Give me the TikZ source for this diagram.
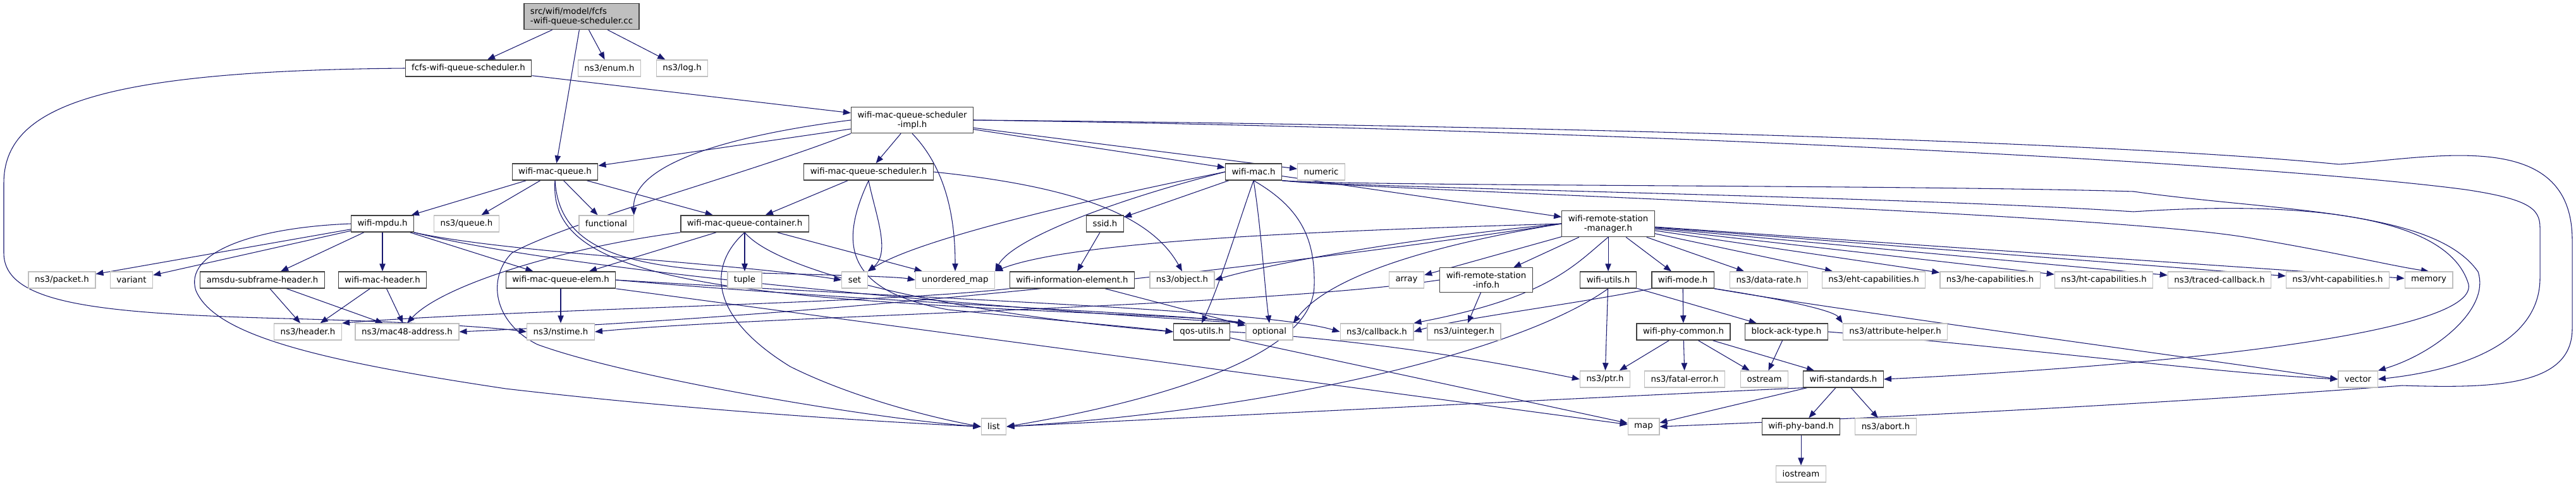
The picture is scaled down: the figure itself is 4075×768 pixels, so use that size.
\documentclass[tikz,border=0pt]{standalone}
\usepackage{fontspec}
\setmainfont{DejaVu Sans}
\usetikzlibrary{arrows.meta,backgrounds}
\definecolor{edgeblue}{HTML}{191970}
\definecolor{extgrey}{HTML}{BFBFBF}
\definecolor{boxline}{HTML}{404040}
\begin{document}
\begin{tikzpicture}[x=0.75pt,y=-0.75pt,
   box/.style={rectangle,fill=white,line width=1pt,inner xsep=7.5pt,inner ysep=5pt,
               minimum height=19.5pt,font=\fontsize{10}{11.25}\selectfont},
   incbox/.style={box,draw=boxline},
   extbox/.style={box,draw=extgrey},
   rootbox/.style={box,draw=boxline,fill=extgrey},
   dep/.style={draw=edgeblue,line width=0.8pt,-{Triangle[length=9pt,width=7pt]}}]
   \useasboundingbox (0,0) rectangle (4075,768);
   % files
   \node[rootbox,align=left] (root) at (920,26) {src/wifi/model/fcfs\\-wifi-queue-scheduler.cc};
   \node[incbox] (fcfs) at (741,108) {fcfs-wifi-queue-scheduler.h};
   \node[extbox] (enum) at (964,108) {ns3/enum.h};
   \node[extbox] (log)  at (1079,108) {ns3/log.h};
   \node[incbox,align=center] (impl) at (1443,190) {wifi-mac-queue-scheduler\\-impl.h};
   \node[incbox] (wmq)     at (878,272)  {wifi-mac-queue.h};
   \node[incbox] (wmqs)    at (1374,272) {wifi-mac-queue-scheduler.h};
   \node[incbox] (wmac)    at (1983,272) {wifi-mac.h};
   \node[extbox] (numeric) at (2090,272) {numeric};
   \node[incbox] (wmpdu)      at (605,354)  {wifi-mpdu.h};
   \node[extbox] (queue)      at (738,354)  {ns3/queue.h};
   \node[extbox] (functional) at (959,354)  {functional};
   \node[incbox] (container)  at (1178,354) {wifi-mac-queue-container.h};
   \node[incbox] (ssid)       at (1748,354) {ssid.h};
   \node[incbox,align=center] (wrsm) at (2544,354) {wifi-remote-station\\-manager.h};
   \node[extbox] (packet)   at (98,443)   {ns3/packet.h};
   \node[extbox] (variant)  at (208,443)  {variant};
   \node[incbox] (amsdu)    at (415,443)  {amsdu-subframe-header.h};
   \node[incbox] (wmh)      at (605,443)  {wifi-mac-header.h};
   \node[incbox] (elem)     at (887,443)  {wifi-mac-queue-elem.h};
   \node[extbox] (tuple)    at (1178,443) {tuple};
   \node[extbox] (set)      at (1352,443) {set};
   \node[extbox] (umap)     at (1511,443) {unordered\_map};
   \node[incbox] (wie)      at (1696,443) {wifi-information-element.h};
   \node[extbox] (object)   at (1870,443) {ns3/object.h};
   \node[extbox] (array)    at (2225,443) {array};
   \node[incbox,align=center] (wrsi) at (2351,443) {wifi-remote-station\\-info.h};
   \node[incbox] (wutils)   at (2544,443) {wifi-utils.h};
   \node[incbox] (wmode)    at (2662,443) {wifi-mode.h};
   \node[extbox] (datarate) at (2798,443) {ns3/data-rate.h};
   \node[extbox] (eht)      at (2964,443) {ns3/eht-capabilities.h};
   \node[extbox] (he)       at (3148,443) {ns3/he-capabilities.h};
   \node[extbox] (ht)       at (3328,443) {ns3/ht-capabilities.h};
   \node[extbox] (traced)   at (3511,443) {ns3/traced-callback.h};
   \node[extbox] (vht)      at (3698,443) {ns3/vht-capabilities.h};
   \node[extbox] (memory)   at (3842,443) {memory};
   \node[extbox] (header)   at (487,525)  {ns3/header.h};
   \node[extbox] (mac48)    at (644,525)  {ns3/mac48-address.h};
   \node[extbox] (nstime)   at (887,525)  {ns3/nstime.h};
   \node[incbox] (qos)      at (1901,525) {qos-utils.h};
   \node[extbox] (optional) at (2008,525) {optional};
   \node[extbox] (callback) at (2178,525) {ns3/callback.h};
   \node[extbox] (uinteger) at (2316,525) {ns3/uinteger.h};
   \node[incbox] (wpc)      at (2663,525) {wifi-phy-common.h};
   \node[incbox] (bat)      at (2826,525) {block-ack-type.h};
   \node[extbox] (attr)     at (2998,525) {ns3/attribute-helper.h};
   \node[extbox] (ptr)      at (2539,600) {ns3/ptr.h};
   \node[extbox] (fatal)    at (2665,600) {ns3/fatal-error.h};
   \node[extbox] (ostream)  at (2791,600) {ostream};
   \node[incbox] (wstd)     at (2916,600) {wifi-standards.h};
   \node[extbox] (vector)   at (3730,600) {vector};
   \node[extbox] (list)     at (1572,675) {list};
   \node[extbox] (map)      at (2600,675) {map};
   \node[incbox] (wpb)      at (2849,675) {wifi-phy-band.h};
   \node[extbox] (abort)    at (2983,675) {ns3/abort.h};
   \node[extbox] (iostream) at (2849,750) {iostream};
   \begin{pgfonlayer}{background}
   % includes of the .cc file
   \draw[dep] (root) -- (fcfs);
   \draw[dep] (root) -- (wmq);
   \draw[dep] (root) -- (enum);
   \draw[dep] (root) -- (log);
   % fcfs-wifi-queue-scheduler.h
   \draw[dep] (fcfs) -- (impl);
   \draw[dep] (fcfs.west) .. controls (150,112) and (6,170) .. (6,290) -- (6,400)
      .. controls (6,480) and (150,496) .. (450,504) .. controls (650,509) and (780,518) .. (nstime.west);
   % wifi-mac-queue-scheduler-impl.h
   \draw[dep] (impl) -- (wmq);
   \draw[dep] (impl) -- (wmqs);
   \draw[dep] (impl) -- (wmac);
   \draw[dep] (impl) -- (numeric);
   \draw[dep] (impl.west) .. controls (1150,215) and (1000,260) .. (functional.north east);
   \draw[dep] (impl.south) .. controls (1490,260) and (1511,330) .. (umap.north);
   \draw[dep] (impl.south west) .. controls (1200,270) and (900,350) .. (810,400)
      .. controls (770,440) and (780,510) .. (850,545) .. controls (1000,600) and (1400,665) .. (list.west);
   \draw[dep] (impl.east) .. controls (2600,205) and (3600,260) .. (3900,300)
      .. controls (4000,315) and (4018,330) .. (4018,360) -- (4018,440)
      .. controls (4018,540) and (3900,585) .. (vector.east);
   \draw[dep] (impl.east) .. controls (2600,200) and (3400,230) .. (3700,260)
      .. controls (3850,250) and (4069,200) .. (4069,380) -- (4069,520)
      .. controls (4069,610) and (3950,615) .. (3800,610) .. controls (3400,640) and (3000,660) .. (map.east);
   % wifi-mac-queue.h
   \draw[dep] (wmq) -- (wmpdu);
   \draw[dep] (wmq) -- (queue);
   \draw[dep] (wmq) -- (functional);
   \draw[dep] (wmq) -- (container);
   \draw[dep] (wmq.south) .. controls (870,390) and (980,440) .. (1300,470)
      .. controls (1600,495) and (1880,498) .. (optional.north west);
   \draw[dep] (wmq.south) .. controls (885,400) and (1000,425) .. (1200,432)
      .. controls (1350,436) and (1420,438) .. (umap.west);
   % wifi-mac-queue-scheduler.h
   \draw[dep] (wmqs) -- (container);
   \draw[dep] (wmqs.east) .. controls (1700,295) and (1820,340) .. (object.north);
   \draw[dep] (wmqs.south) .. controls (1330,380) and (1330,460) .. (1500,490)
      .. controls (1700,510) and (1800,518) .. (qos.west);
   \draw[dep] (wmqs.south) .. controls (1385,340) and (1410,400) .. (set.north east);
   % wifi-mac.h
   \draw[dep] (wmac) -- (ssid);
   \draw[dep] (wmac) -- (wrsm);
   \draw[dep] (wmac.west) .. controls (1700,320) and (1450,380) .. (set.north east);
   \draw[dep] (wmac.west) .. controls (1750,320) and (1600,380) .. (umap.north east);
   \draw[dep] (wmac.south) .. controls (1960,350) and (1930,450) .. (qos.north);
   \draw[dep] (wmac.south) .. controls (1995,360) and (2000,450) .. (optional.north);
   \draw[dep] (wmac.south) .. controls (2060,330) and (2080,380) .. (2079,450)
      .. controls (2080,570) and (1800,640) .. (list.east);
   \draw[dep] (wmac.south east) .. controls (2150,300) and (3300,335) .. (3550,375)
      .. controls (3700,400) and (3780,420) .. (memory.north);
   \draw[dep] (wmac.south east) .. controls (2150,295) and (3000,292) .. (3375,303)
      .. controls (3600,335) and (3850,330) .. (3920,430) .. controls (3940,490) and (3850,560) .. (vector.north east);
   \draw[dep] (wmac.south east) .. controls (2150,298) and (3000,310) .. (3375,335)
      .. controls (3600,320) and (3870,330) .. (3905,450) .. controls (3920,530) and (3400,580) .. (wstd.east);
   % wifi-mpdu.h
   \draw[dep] (wmpdu) -- (packet);
   \draw[dep] (wmpdu) -- (variant);
   \draw[dep] (wmpdu) -- (amsdu);
   \draw[dep] (wmpdu) -- (wmh);
   \draw[dep] (wmpdu) -- (elem);
   \draw[dep] (wmpdu.south east) .. controls (800,400) and (1150,415) .. (set.west);
   \draw[dep] (wmpdu.south east) .. controls (900,430) and (1600,490) .. (optional.north west);
   \draw[dep] (wmpdu.west) .. controls (400,360) and (290,400) .. (310,460)
      .. controls (340,530) and (500,570) .. (800,615) .. controls (1100,650) and (1400,668) .. (list.west);
   % wifi-mac-queue-container.h
   \draw[dep] (container) -- (elem);
   \draw[dep] (container) -- (tuple);
   \draw[dep] (container) -- (umap);
   \draw[dep] (container.south west) .. controls (900,390) and (700,450) .. (mac48.north);
   \draw[dep] (container.south) .. controls (1120,420) and (1120,500) .. (1250,580)
      .. controls (1350,630) and (1480,662) .. (list.west);
   \draw[dep] (container.south) .. controls (1230,430) and (1500,495) .. (qos.west);
   % ssid.h
   \draw[dep] (ssid) -- (wie);
   % wifi-remote-station-manager.h
   \draw[dep] (wrsm) -- (array);
   \draw[dep] (wrsm) -- (wrsi);
   \draw[dep] (wrsm) -- (wutils);
   \draw[dep] (wrsm) -- (wmode);
   \draw[dep] (wrsm) -- (datarate);
   \draw[dep] (wrsm) -- (eht);
   \draw[dep] (wrsm) -- (he);
   \draw[dep] (wrsm) -- (ht);
   \draw[dep] (wrsm) -- (traced);
   \draw[dep] (wrsm) -- (vht);
   \draw[dep] (wrsm) -- (memory);
   \draw[dep] (wrsm.west) .. controls (2100,365) and (1700,380) .. (umap.north east);
   \draw[dep] (wrsm.west) .. controls (2200,380) and (2000,420) .. (object.east);
   \draw[dep] (wrsm.west) .. controls (2250,390) and (2100,440) .. (optional.north east);
   \draw[dep] (wrsm.south) .. controls (2490,420) and (2450,470) .. (callback.north east);
   \draw[dep] (wrsm.west) .. controls (2200,395) and (1500,490) .. (mac48.east);
   % amsdu-subframe-header.h, wifi-mac-header.h
   \draw[dep] (amsdu) -- (header);
   \draw[dep] (amsdu) -- (mac48);
   \draw[dep] (wmh) -- (header);
   \draw[dep] (wmh) -- (mac48);
   % wifi-mac-queue-elem.h
   \draw[dep] (elem) -- (nstime);
   \draw[dep] (elem.east) .. controls (1500,475) and (2000,490) .. (callback.west);
   \draw[dep] (elem.east) .. controls (1400,480) and (1850,495) .. (optional.north west);
   \draw[dep] (elem.south east) -- (map);
   % wifi-information-element.h
   \draw[dep] (wie.south west) .. controls (1400,480) and (800,490) .. (header.north east);
   \draw[dep] (wie) -- (optional);
   % wifi-remote-station-info.h
   \draw[dep] (wrsi) -- (uinteger);
   \draw[dep] (wrsi.west) .. controls (2000,485) and (1200,500) .. (nstime.east);
   % wifi-utils.h
   \draw[dep] (wutils) -- (ptr);
   \draw[dep] (wutils) -- (bat);
   \draw[dep] (wutils.south) .. controls (2400,560) and (2000,650) .. (list.east);
   % wifi-mode.h
   \draw[dep] (wmode) -- (wpc);
   \draw[dep] (wmode.south west) .. controls (2500,480) and (2300,505) .. (callback.east);
   \draw[dep] (wmode.south east) .. controls (2800,470) and (2900,490) .. (attr.north west);
   \draw[dep] (wmode.south east) .. controls (2900,490) and (3500,570) .. (vector.west);
   % wifi-phy-common.h
   \draw[dep] (wpc) -- (ptr);
   \draw[dep] (wpc) -- (fatal);
   \draw[dep] (wpc) -- (ostream);
   \draw[dep] (wpc) -- (wstd);
   % block-ack-type.h
   \draw[dep] (bat) -- (ostream);
   \draw[dep] (bat.east) .. controls (3200,550) and (3500,590) .. (vector.west);
   % qos-utils.h
   \draw[dep] (qos.east) .. controls (2200,540) and (2400,580) .. (ptr.west);
   \draw[dep] (qos) -- (map);
   % wifi-standards.h
   \draw[dep] (wstd) -- (wpb);
   \draw[dep] (wstd) -- (abort);
   \draw[dep] (wstd) -- (map);
   \draw[dep] (wstd.south west) .. controls (2500,630) and (1900,660) .. (list.east);
   % wifi-phy-band.h
   \draw[dep] (wpb) -- (iostream);
   \end{pgfonlayer}
\end{tikzpicture}
\end{document}
